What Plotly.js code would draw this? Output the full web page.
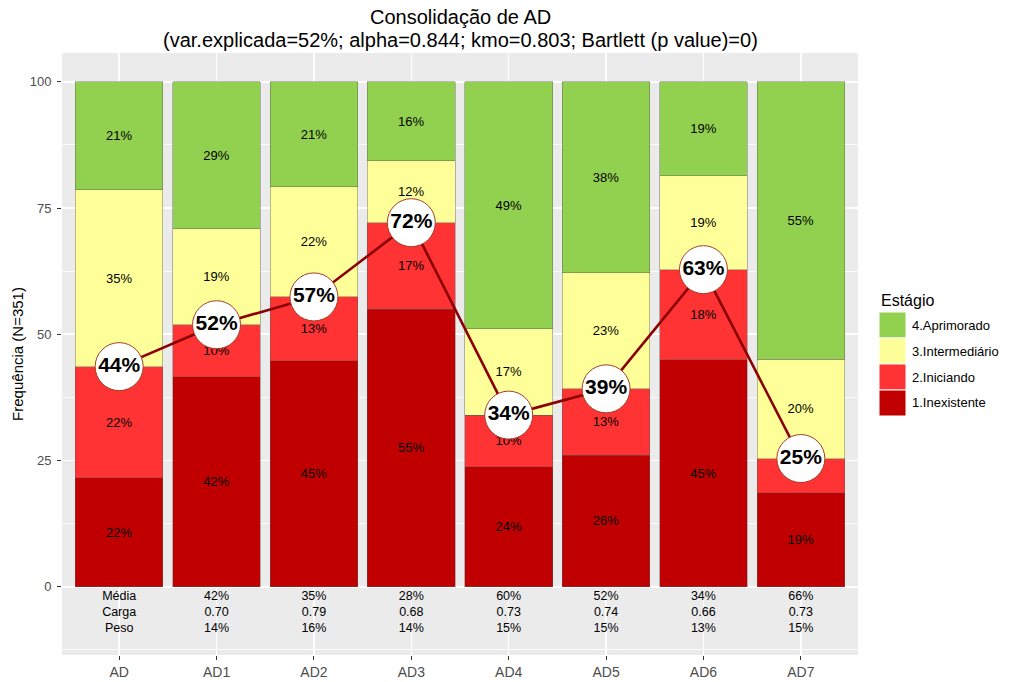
<!DOCTYPE html>
<html><head><meta charset="utf-8">
<script src="https://cdn.plot.ly/plotly-3.0.1.min.js"></script>
<style>html,body{margin:0;padding:0;background:#fff}</style>
</head><body>
<div id="chart" style="width:1024px;height:682px"></div>
<script>
const categories = ['AD','AD1','AD2','AD3','AD4','AD5','AD6','AD7'];
const inexistente  = [21.6, 41.6, 44.8, 55.0, 23.8, 26.1, 45.0, 18.6];
const iniciando    = [22.0, 10.3, 12.6, 17.1, 10.2, 13.1, 17.8, 6.8];
const intermediario= [35.0, 19.0, 21.8, 12.3, 17.1, 23.0, 18.6, 19.7];
const aprimorado   = [21.4, 29.1, 20.8, 15.6, 48.9, 37.8, 18.6, 54.9];
const mediaVals = [null, 42, 35, 28, 60, 52, 34, 66];
const cargaVals = [null, 0.70, 0.79, 0.68, 0.73, 0.74, 0.66, 0.73];
const pesoVals  = [null, 14, 16, 14, 15, 15, 13, 15];
const seriesNames = ['1.Inexistente','2.Iniciando','3.Intermediário','4.Aprimorado'];
const seriesColors = ['#C00000','#FF3333','#FFFF99','#92D050'];
const seriesData = [inexistente, iniciando, intermediario, aprimorado];
const titleLines = ['Consolidação de AD', '(var.explicada=52%; alpha=0.844; kmo=0.803; Bartlett (p value)=0)'];

const FONT = 'Liberation Sans, Arial, sans-serif';
const traces = seriesData.map((vals, i) => ({
  type: 'bar', x: categories, y: vals, name: seriesNames[i],
  width: 0.9,
  marker: {color: seriesColors[i], line: {color: 'rgba(90,90,90,0.7)', width: 0.6}},
  text: vals.map(v => Math.round(v) + '%'),
  textposition: 'inside', insidetextanchor: 'middle', textangle: 0,
  constraintext: 'none',
  textfont: {family: FONT, size: 13, color: '#000'},
  hoverinfo: 'x+y+name', showlegend: false
}));

const cumul = categories.map((c, i) => inexistente[i] + iniciando[i]);
traces.push({
  type: 'scatter', mode: 'lines+markers+text', x: categories, y: cumul,
  line: {color: '#8B0000', width: 2.6},
  marker: {size: 48, color: '#FFFFFF', line: {color: '#A0402A', width: 1}},
  text: cumul.map(v => Math.round(v) + '%'),
  textposition: 'middle center',
  textfont: {family: FONT, size: 21, color: '#000', weight: 'bold'},
  showlegend: false, hoverinfo: 'skip'
});

const tableText = categories.map((c, i) => i === 0 ? 'Média<br>Carga<br>Peso' :
  mediaVals[i] + '%<br>' + cargaVals[i].toFixed(2) + '<br>' + pesoVals[i] + '%');
traces.push({
  type: 'scatter', mode: 'text', x: categories, y: categories.map(() => -5.15),
  text: tableText, textposition: 'middle center',
  textfont: {family: FONT, size: 12.5, color: '#000'},
  showlegend: false, hoverinfo: 'skip'
});

// custom legend and title
const W = 1024, H = 682, L = 62, R = 858, T = 53, B = 655;
const px = x => (x - L) / (R - L);
const py = y => (B - y) / (B - T);
const shapes = [], annotations = [];
const legendOrder = [3, 2, 1, 0];
legendOrder.forEach((si, k) => {
  const top = 312 + k * 26;
  shapes.push({type: 'rect', xref: 'paper', yref: 'paper',
    x0: px(879), x1: px(906), y0: py(top + 26), y1: py(top),
    fillcolor: seriesColors[si], line: {color: '#FFFFFF', width: 1}, layer: 'above'});
  annotations.push({xref: 'paper', yref: 'paper', x: px(910), y: py(top + 13),
    xanchor: 'left', yanchor: 'middle', showarrow: false, text: seriesNames[si],
    font: {family: FONT, size: 13, color: '#000'}});
});
annotations.push({xref: 'paper', yref: 'paper', x: px(879), y: py(300),
  xanchor: 'left', yanchor: 'middle', showarrow: false, text: 'Estágio',
  font: {family: FONT, size: 16, color: '#000'}});
[17, 40].forEach((yy, k) => annotations.push({xref: 'paper', yref: 'paper', x: 0.5, y: py(yy),
  xanchor: 'center', yanchor: 'middle', showarrow: false, text: titleLines[k],
  font: {family: FONT, size: 20, color: '#000'}}));

const layout = {
  width: W, height: H,
  margin: {l: L, r: W - R, t: T, b: H - B, pad: 0},
  paper_bgcolor: '#FFFFFF', plot_bgcolor: '#EBEBEB',
  barmode: 'stack', showlegend: false,
  font: {family: FONT},
  xaxis: {type: 'category', range: [-0.587, 7.587], showgrid: true, gridcolor: '#FFFFFF', gridwidth: 1.6,
    zeroline: false, ticks: 'outside', ticklen: 4, tickcolor: '#333333', tickwidth: 1,
    tickfont: {family: FONT, size: 14, color: '#4D4D4D'}, showline: false},
  yaxis: {range: [-13.5, 105.7], tick0: 0, dtick: 25, showgrid: true, gridcolor: '#FFFFFF', gridwidth: 1.6,
    zeroline: false, ticks: 'outside', ticklen: 4, tickcolor: '#333333', tickwidth: 1,
    ticklabelstandoff: 3,
    tickfont: {family: FONT, size: 13, color: '#4D4D4D'},
    minor: {dtick: 12.5, tick0: 0, showgrid: true, gridcolor: '#FFFFFF', gridwidth: 0.8, ticks: ''},
    title: {text: 'Frequência (N=351)', font: {family: FONT, size: 15, color: '#000'}, standoff: 2}},
  shapes: shapes, annotations: annotations
};
Plotly.newPlot('chart', traces, layout, {displayModeBar: false, staticPlot: true});
</script>
</body></html>
